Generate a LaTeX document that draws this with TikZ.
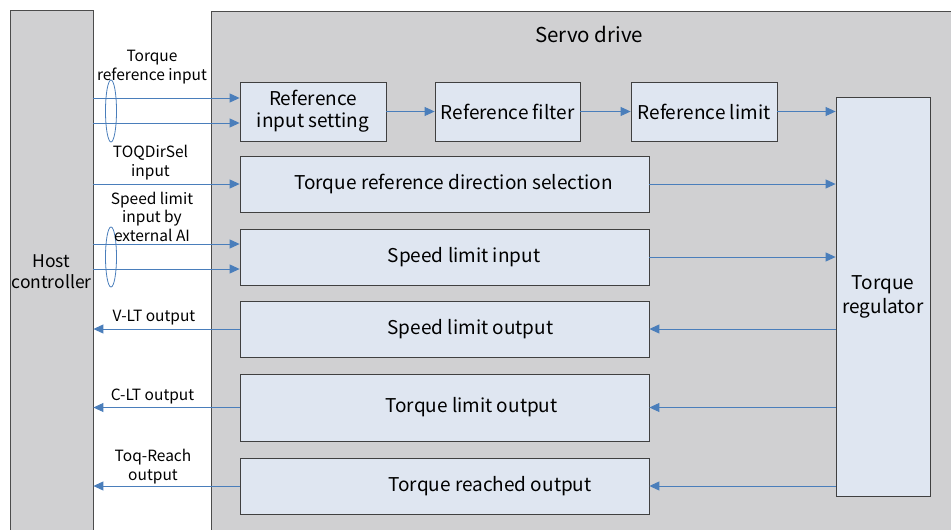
\documentclass[tikz,border=0pt]{standalone}
\usepackage{fontspec}
\setmainfont{Noto Sans CJK SC}
\usetikzlibrary{arrows.meta}
\definecolor{drivegray}{HTML}{D0D0D2}
\definecolor{boxblue}{HTML}{DFE6F1}
\definecolor{linkblue}{HTML}{4A7EBB}
\tikzset{
  boxtext/.style={align=center, inner sep=0pt, font=\fontsize{19}{22}\selectfont},
  blockbox/.style={draw=black!75, fill=boxblue, line width=0.8pt, minimum height=56pt, boxtext},
  refbox/.style={blockbox, minimum width=146pt, minimum height=59pt},
  longbox/.style={blockbox, minimum width=409pt},
  sig/.style={draw=linkblue, line width=0.9pt, ->},
  sigtext/.style={align=center, font=\fontsize{15.5}{18.5}\selectfont}
}
\begin{document}
\begin{tikzpicture}[x=1pt, y=-1pt, >={Triangle[length=10pt,width=9pt]}]
  \useasboundingbox (0,0) rectangle (951,530);
  % host and drive
  \node[draw=black!70, fill=drivegray, line width=0.8pt, minimum width=83pt, minimum height=524pt,
    inner sep=0pt, align=center, font=\fontsize{17.5}{21}\selectfont] (host) at (51.5,272) {Host\\controller};
  \node[draw=black!70, fill=drivegray, line width=0.8pt, minimum width=745pt, minimum height=524pt,
    anchor=north west] (servo) at (211,11) {};
  \node[font=\fontsize{20.5}{24}\selectfont] (servotitle) at (589,34) {Servo drive};

  % blocks
  \node[refbox] (rin) at (313,111.5) {Reference\\input setting};
  \node[refbox, minimum width=145pt] (rfilt) at (507.5,111.5) {Reference filter};
  \node[refbox] (rlim) at (704,111.5) {Reference limit};
  \node[longbox] (dirsel) at (444.5,184) {};
  \node[longbox] (spdin) at (444.5,257) {};
  \node[longbox] (spdout) at (444.5,329) {};
  \node[longbox, minimum height=67pt] (toqout) at (444.5,407.5) {};
  \node[longbox] (reachout) at (444.5,486) {};
  \node[blockbox, minimum width=94pt, minimum height=399pt, font=\fontsize{19}{24}\selectfont]
    (treg) at (883,296.5) {Torque\\regulator};
  \node[boxtext] (dirseltext) at ([xshift=9pt]dirsel.center) {Torque reference direction selection};
  \node[boxtext] (spdintext) at ([xshift=19.5pt]spdin.center) {Speed limit input};
  \node[boxtext] (spdouttext) at ([xshift=26pt]spdout.center) {Speed limit output};
  \node[boxtext] (toqouttext) at ([xshift=27pt]toqout.center) {Torque limit output};
  \node[boxtext] (reachouttext) at ([xshift=45.5pt]reachout.center) {Torque reached output};

  % inputs from host
  \coordinate (rinA) at ([yshift=13.5pt]rin.west);
  \coordinate (rinB) at ([yshift=-11.5pt]rin.west);
  \coordinate (spdA) at ([yshift=13pt]spdin.west);
  \coordinate (spdB) at ([yshift=-12pt]spdin.west);
  \draw[sig] (rinA -| host.east) -- (rinA);
  \draw[sig] (rinB -| host.east) -- (rinB);
  \draw[sig] (dirsel.west -| host.east) -- (dirsel.west);
  \draw[sig] (spdA -| host.east) -- (spdA);
  \draw[sig] (spdB -| host.east) -- (spdB);
  \draw[linkblue, line width=0.8pt] (111,111) ellipse (5.5 and 31);
  \draw[linkblue, line width=0.8pt] (111,257) ellipse (5.5 and 30);

  % outputs to host
  \draw[sig] (spdout.west) -- (spdout.west -| host.east);
  \draw[sig] (toqout.west) -- (toqout.west -| host.east);
  \draw[sig] (reachout.west) -- (reachout.west -| host.east);

  % reference chain
  \draw[sig] (rin) -- (rfilt);
  \draw[sig] (rfilt) -- (rlim);
  \draw[sig] (rlim.east) -- (rlim.east -| treg.west);
  \draw[sig] (dirsel.east) -- (dirsel.east -| treg.west);
  \draw[sig] (spdin.east) -- (spdin.east -| treg.west);
  \draw[sig] (spdout.east -| treg.west) -- (spdout.east);
  \draw[sig] (toqout.east -| treg.west) -- (toqout.east);
  \draw[sig] (reachout.east -| treg.west) -- (reachout.east);

  % signal names
  \node[sigtext] (lblref) at (152,67) {Torque\\reference input};
  \node[sigtext] (lbldir) at (150.5,162.5) {TOQDirSel\\input};
  \node[sigtext] (lblspd) at (152,216.5) {Speed limit\\input by\\external AI};
  \node[sigtext] (lblvlt) at (154,318) {V-LT output};
  \node[sigtext] (lblclt) at (152.5,396) {C-LT output};
  \node[sigtext] (lblreach) at (153,466.5) {Toq-Reach\\output};
\end{tikzpicture}
\end{document}
